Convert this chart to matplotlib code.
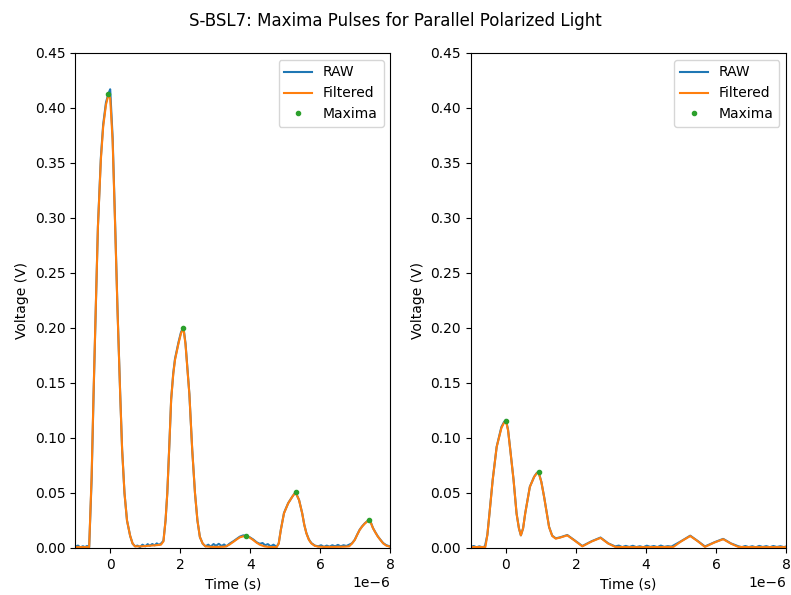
import numpy as np
import matplotlib
matplotlib.use("Agg")
import matplotlib.pyplot as plt

# times in microseconds, voltages in volts
# left panel - filtered signal
t_filt_left = [-1.0, -0.8, -0.6, -0.53, -0.475, -0.41, -0.35, -0.266, -0.2, -0.12, -0.05, 0.0,
               0.07, 0.142, 0.21, 0.285, 0.34, 0.408, 0.48, 0.57, 0.64, 0.71, 0.9, 1.1,
               1.3, 1.45, 1.52, 1.58, 1.63, 1.69, 1.74, 1.8, 1.85, 1.95, 2.02, 2.09, 2.15,
               2.21, 2.26, 2.34, 2.42, 2.49, 2.56, 2.64, 2.72, 2.9, 3.1, 3.28, 3.4, 3.52,
               3.62, 3.7, 3.8, 3.89, 3.98, 4.08, 4.18, 4.27, 4.4, 4.51, 4.65, 4.75, 4.81,
               4.87, 4.96, 5.08, 5.2, 5.29, 5.39, 5.48, 5.54, 5.6, 5.67, 5.74, 5.84, 5.94,
               6.1, 6.4, 6.7, 6.82, 6.9, 6.98, 7.05, 7.12, 7.19, 7.26, 7.33, 7.39, 7.45,
               7.5, 7.57, 7.64, 7.72, 7.79, 7.88, 7.98]
v_filt_left = [0.0008, 0.0008, 0.0008, 0.065, 0.14, 0.22, 0.292, 0.353, 0.383, 0.403, 0.412, 0.409,
               0.37, 0.292, 0.215, 0.14, 0.09, 0.05, 0.025, 0.011, 0.004, 0.0015, 0.0015, 0.002,
               0.0025, 0.003, 0.006, 0.025, 0.05, 0.095, 0.135, 0.158, 0.171, 0.186, 0.195, 0.2, 0.185,
               0.16, 0.14, 0.09, 0.05, 0.025, 0.01, 0.004, 0.0015, 0.001, 0.001, 0.0012, 0.003, 0.0057,
               0.008, 0.0097, 0.0106, 0.011, 0.0095, 0.0073, 0.0048, 0.003, 0.0015, 0.001, 0.0008, 0.0008, 0.004,
               0.0164, 0.0315, 0.0406, 0.0467, 0.0506, 0.0436, 0.0315, 0.021, 0.0133, 0.0075, 0.0042, 0.002, 0.0012,
               0.001, 0.001, 0.0012, 0.0015, 0.004, 0.0073, 0.012, 0.0164, 0.0195, 0.022, 0.024, 0.0255, 0.022,
               0.018, 0.014, 0.0103, 0.007, 0.0042, 0.0022, 0.0012]

# left panel - raw signal
t_raw_left = [-1.0, -0.92, -0.85, -0.78, -0.72, -0.66, -0.6, -0.53, -0.475, -0.41, -0.35, -0.266,
              -0.2, -0.12, -0.05, 0.0, 0.07, 0.142, 0.21, 0.285, 0.34, 0.408, 0.48, 0.57, 0.64, 0.71,
              0.78, 0.85, 0.92, 1.0, 1.07, 1.13, 1.2, 1.27, 1.33, 1.39, 1.45, 1.52, 1.58, 1.63,
              1.69, 1.74, 1.8, 1.85, 1.95, 2.02, 2.09, 2.15, 2.21, 2.26, 2.34, 2.42, 2.49, 2.56,
              2.64, 2.72, 2.8, 2.87, 2.95, 3.02, 3.1, 3.18, 3.25, 3.32, 3.4, 3.52, 3.62, 3.7,
              3.8, 3.89, 3.98, 4.08, 4.18, 4.27, 4.35, 4.42, 4.5, 4.58, 4.66, 4.75, 4.81, 4.87,
              4.96, 5.08, 5.2, 5.29, 5.39, 5.48, 5.54, 5.6, 5.67, 5.74, 5.84, 5.94, 6.02, 6.1,
              6.18, 6.26, 6.34, 6.42, 6.5, 6.58, 6.66, 6.74, 6.82, 6.9, 6.98, 7.05, 7.12, 7.19,
              7.26, 7.33, 7.39, 7.45, 7.5, 7.57, 7.64, 7.72, 7.79, 7.88, 7.98]
v_raw_left = [0.0012, 0.0022, 0.0005, 0.0016, 0.0008, 0.0018, 0.0005, 0.062, 0.138, 0.219, 0.292, 0.355,
              0.385, 0.405, 0.413, 0.417, 0.373, 0.294, 0.216, 0.141, 0.09, 0.05, 0.025, 0.011, 0.004, 0.0015,
              0.0022, 0.0008, 0.003, 0.0015, 0.0035, 0.002, 0.0036, 0.0024, 0.0042, 0.0028, 0.004, 0.0065, 0.025, 0.05,
              0.095, 0.135, 0.159, 0.172, 0.187, 0.196, 0.201, 0.186, 0.161, 0.14, 0.09, 0.05, 0.025, 0.01,
              0.004, 0.0015, 0.003, 0.0012, 0.0036, 0.002, 0.0038, 0.0018, 0.0032, 0.0015, 0.0038, 0.0062, 0.0085, 0.0103,
              0.0115, 0.0108, 0.0098, 0.0078, 0.0052, 0.0038, 0.0045, 0.0025, 0.0035, 0.0015, 0.003, 0.001, 0.0042, 0.0165,
              0.0318, 0.0408, 0.0468, 0.0508, 0.0437, 0.0316, 0.021, 0.0135, 0.0078, 0.0045, 0.0022, 0.0015, 0.0025, 0.001,
              0.0022, 0.0012, 0.0025, 0.0015, 0.0028, 0.0015, 0.0025, 0.0018, 0.003, 0.0042, 0.0075, 0.0122, 0.0166, 0.0197,
              0.0222, 0.0242, 0.0252, 0.0224, 0.0182, 0.0142, 0.0105, 0.0072, 0.0045, 0.0025, 0.0015]

# right panel - filtered signal
t_filt_right = [-1.0, -0.8, -0.587, -0.53, -0.47, -0.379, -0.265, -0.13, -0.06, 0.0, 0.06, 0.114, 0.218,
                0.303, 0.37, 0.426, 0.49, 0.549, 0.682, 0.805, 0.87, 0.928, 1.01, 1.089, 1.231, 1.32,
                1.42, 1.55, 1.75, 1.95, 2.18, 2.45, 2.7, 2.92, 3.12, 3.5, 4.0, 4.5, 4.78, 5.0,
                5.26, 5.48, 5.68, 5.95, 6.2, 6.42, 6.63, 7.0, 7.5, 8.0]
v_filt_right = [0.0009, 0.0009, 0.0009, 0.012, 0.0312, 0.0615, 0.0918, 0.109, 0.1135, 0.1155, 0.107, 0.0918, 0.0615,
                0.0312, 0.018, 0.0115, 0.018, 0.0312, 0.0555, 0.0646, 0.0675, 0.0691, 0.06, 0.0464, 0.019, 0.011,
                0.0085, 0.0095, 0.0115, 0.007, 0.0015, 0.006, 0.0092, 0.004, 0.001, 0.0008, 0.0008, 0.0009,
                0.001, 0.006, 0.0109, 0.006, 0.001, 0.005, 0.008, 0.004, 0.001, 0.0008, 0.0008, 0.0008]

# right panel - raw signal
t_raw_right = [-1.0, -0.92, -0.84, -0.76, -0.68, -0.6, -0.53, -0.47, -0.379, -0.265, -0.13, -0.06, 0.0,
               0.06, 0.114, 0.218, 0.303, 0.37, 0.426, 0.49, 0.549, 0.682, 0.805, 0.87, 0.928, 1.01, 1.089,
               1.231, 1.32, 1.42, 1.55, 1.75, 1.95, 2.18, 2.45, 2.7, 2.92, 3.12, 3.22, 3.32, 3.42,
               3.52, 3.62, 3.72, 3.82, 3.92, 4.02, 4.12, 4.22, 4.32, 4.42, 4.52, 4.62, 4.72, 5.0,
               5.26, 5.48, 5.68, 5.95, 6.2, 6.42, 6.63, 6.73, 6.83, 6.93, 7.03, 7.13, 7.23, 7.33,
               7.43, 7.53, 7.63, 7.73, 7.83, 7.93, 8.0]
v_raw_right = [0.001, 0.0018, 0.0006, 0.0015, 0.0007, 0.0014, 0.012, 0.0315, 0.0618, 0.092, 0.11, 0.1142, 0.1165,
               0.1075, 0.0922, 0.0618, 0.0314, 0.018, 0.0115, 0.018, 0.0314, 0.0557, 0.0648, 0.0678, 0.0695, 0.0602, 0.0466,
               0.0192, 0.0112, 0.0088, 0.0097, 0.0118, 0.0072, 0.0018, 0.0062, 0.0095, 0.0042, 0.0014, 0.0022, 0.0008, 0.0019,
               0.0009, 0.002, 0.0008, 0.0016, 0.0007, 0.0021, 0.001, 0.0018, 0.0008, 0.0022, 0.001, 0.0017, 0.0012, 0.0062,
               0.0112, 0.0062, 0.0014, 0.0052, 0.0083, 0.0042, 0.0016, 0.0007, 0.0018, 0.0008, 0.0016, 0.0006, 0.0019, 0.0009,
               0.0017, 0.0007, 0.0018, 0.0009, 0.0016, 0.0008, 0.0014]

# maxima found on the filtered signal
t_max_left = [-0.05, 2.09, 3.89, 5.29, 7.39]
v_max_left = [0.413, 0.2, 0.0105, 0.0506, 0.0255]
t_max_right = [0.0, 0.93]
v_max_right = [0.1155, 0.0691]

panels = [
    (t_raw_left, v_raw_left, t_filt_left, v_filt_left, t_max_left, v_max_left),
    (t_raw_right, v_raw_right, t_filt_right, v_filt_right, t_max_right, v_max_right),
]

fig, axes = plt.subplots(1, 2, figsize=(7.91, 5.95), dpi=100)
fig.subplots_adjust(left=0.095, right=0.994, bottom=0.079, top=0.911, wspace=0.255)
fig.suptitle("S-BSL7: Maxima Pulses for Parallel Polarized Light")

for ax, (tr, vr, tf, vf, tm, vm) in zip(axes, panels):
    # convert microseconds to seconds
    ax.plot(np.array(tr) * 1e-6, vr, label="RAW")
    ax.plot(np.array(tf) * 1e-6, vf, label="Filtered")
    ax.plot(np.array(tm) * 1e-6, vm, ".", label="Maxima")
    ax.set_xlim(-1e-6, 8e-6)
    ax.set_ylim(0, 0.45)
    ax.set(xlabel="Time (s)", ylabel="Voltage (V)")
    ax.legend(loc="upper right")

fig.savefig("out.png", dpi=100)
